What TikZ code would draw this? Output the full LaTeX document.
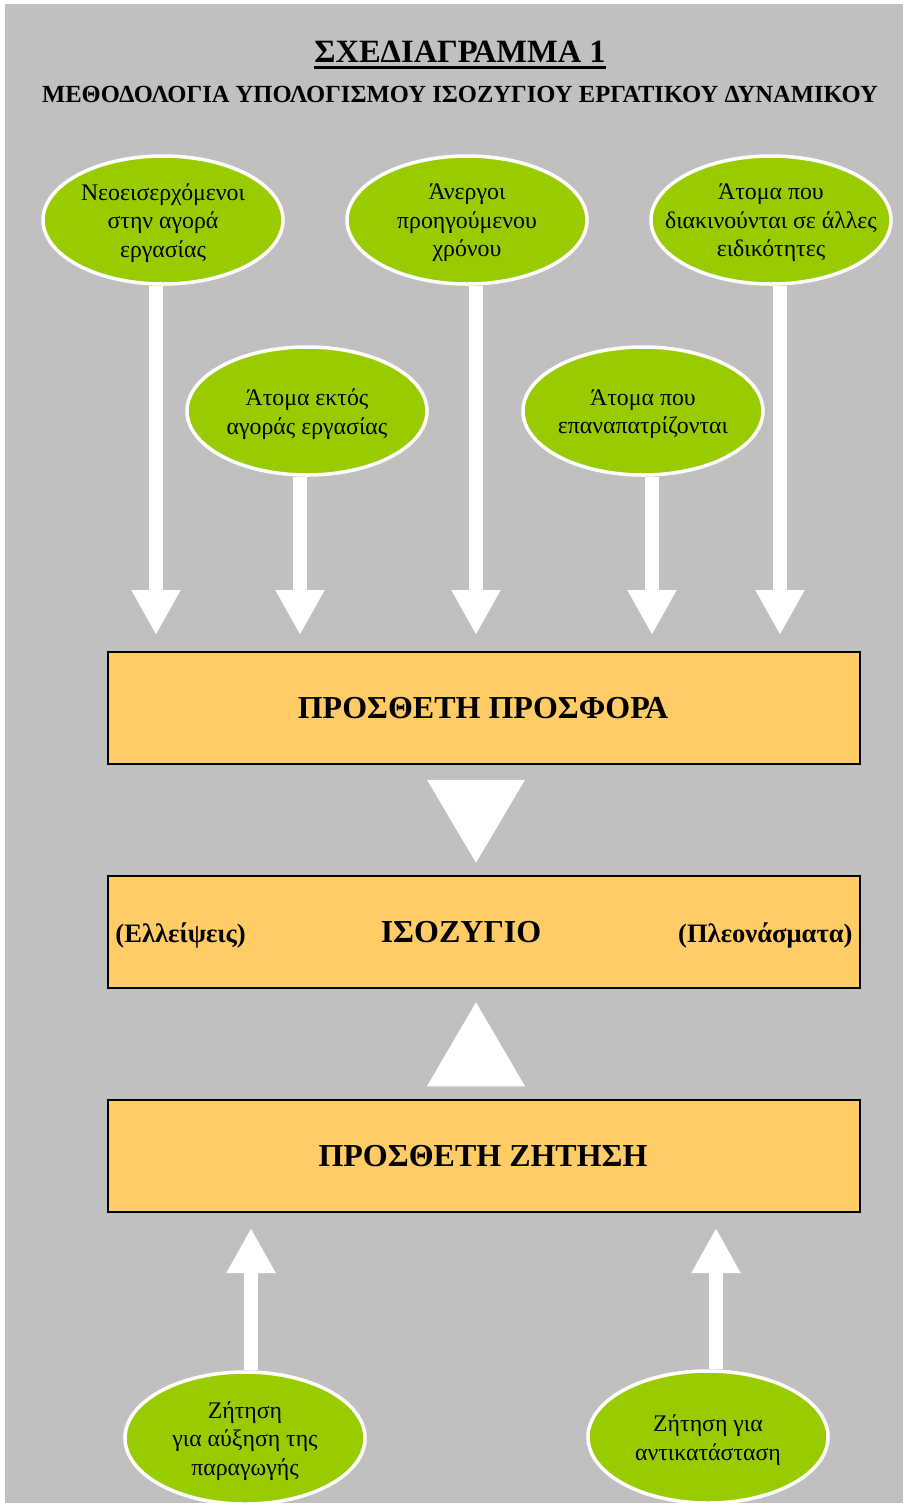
\documentclass[tikz,border=0pt]{standalone}
\usepackage{fontspec}
\setmainfont{Liberation Serif}
\usetikzlibrary{shapes.geometric,arrows.meta,calc}
\definecolor{bggray}{HTML}{C0C0C0}
\definecolor{bubblegreen}{HTML}{99CC00}
\definecolor{boxorange}{HTML}{FFCC66}
\begin{document}
\begin{tikzpicture}[x=1pt,y=-1pt,
  bubble/.style={ellipse, minimum width=240pt, minimum height=128pt, inner sep=0pt,
    fill=bubblegreen, draw=white, line width=3.5pt},
  btext/.style={font=\fontsize{23.8}{28.5}\selectfont, align=center, inner sep=0pt, text=black, yshift=-3pt},
  arr/.style={white, line width=14pt, -{Triangle[width=46pt,length=45pt]}},
  box/.style={rectangle, minimum width=752pt, minimum height=112pt, fill=boxorange,
    draw=black, line width=1.5pt, inner sep=0pt},
  boxtext/.style={font=\fontsize{32}{38}\selectfont\bfseries, inner sep=0pt},
  sidetext/.style={font=\fontsize{26.6}{30}\selectfont\bfseries, inner sep=0pt},
  bigtri/.style={fill=white}
]
\useasboundingbox (0,0) rectangle (903,1508);
\fill[white] (0,0) rectangle (903,1508);
\fill[bggray] (5,4) rectangle (903,1503);

% titles
\node[font=\fontsize{32.5}{38}\selectfont\bfseries, inner sep=0pt, anchor=base] (title) at (460,62) {ΣΧΕΔΙΑΓΡΑΜΜΑ 1};
\draw[line width=3pt] ($(title.base west)+(0,5)$) -- ($(title.base east)+(0,5)$);
\node[font=\fontsize{24.6}{28}\selectfont\bfseries, inner sep=0pt, anchor=base] (subtitle) at (460,102) {ΜΕΘΟΔΟΛΟΓΙΑ ΥΠΟΛΟΓΙΣΜΟΥ ΙΣΟΖΥΓΙΟΥ ΕΡΓΑΤΙΚΟΥ ΔΥΝΑΜΙΚΟΥ};

% source bubbles
\node[bubble, label={[btext]center:{Νεοεισερχόμενοι\\στην αγορά\\εργασίας}}] (E1) at (163,220) {};
\node[bubble, label={[btext]center:{Άνεργοι\\προηγούμενου\\χρόνου}}] (E2) at (467,220) {};
\node[bubble, label={[btext]center:{Άτομα που\\διακινούνται σε άλλες\\ειδικότητες}}] (E3) at (771,220) {};
\node[bubble, label={[btext]center:{Άτομα εκτός\\αγοράς εργασίας}}] (E4) at (307,411) {};
\node[bubble, label={[btext]center:{Άτομα που\\επαναπατρίζονται}}] (E5) at (643,411) {};

% boxes
\node[box] (B1) at (484,708) {};
\node[boxtext] at (483,708) {ΠΡΟΣΘΕΤΗ ΠΡΟΣΦΟΡΑ};
\node[box] (B2) at (484,932) {};
\node[boxtext] at (461,932) {ΙΣΟΖΥΓΙΟ};
\node[sidetext, anchor=west] at ($(B2.west)+(8,3)$) {(Ελλείψεις)};
\node[sidetext, anchor=east] at ($(B2.east)+(-8,3)$) {(Πλεονάσματα)};
\node[box] (B3) at (484,1156) {};
\node[boxtext] at (483,1156) {ΠΡΟΣΘΕΤΗ ΖΗΤΗΣΗ};

% demand bubbles
\node[bubble, minimum height=132pt, label={[btext]center:{Ζήτηση\\για αύξηση της\\παραγωγής}}] (E6) at (245,1438) {};
\node[bubble, minimum height=132pt, label={[btext]center:{Ζήτηση για\\αντικατάσταση}}] (E7) at (708,1437) {};

% arrow tips
\coordinate (a1) at (156,635);
\coordinate (a2) at (300,635);
\coordinate (a3) at (476,635);
\coordinate (a4) at (652,635);
\coordinate (a5) at (780,635);
\coordinate (b1) at (251,1228);
\coordinate (b2) at (716,1228);

\draw[arr] (E1.south -| a1) -- (a1);
\draw[arr] (E4.south -| a2) -- (a2);
\draw[arr] (E2.south -| a3) -- (a3);
\draw[arr] (E5.south -| a4) -- (a4);
\draw[arr] (E3.south -| a5) -- (a5);
\draw[arr] (E6.north -| b1) -- (b1);
\draw[arr] (E7.north -| b2) -- (b2);

% big triangles between boxes
\fill[bigtri] ($(B1.south)+(-57,15)$) -- ($(B1.south)+(41,15)$) -- ($(B1.south)+(-8,98)$) -- cycle;
\fill[bigtri] ($(B3.north)+(-57,-13)$) -- ($(B3.north)+(41,-13)$) -- ($(B3.north)+(-8,-97)$) -- cycle;
\end{tikzpicture}
\end{document}
